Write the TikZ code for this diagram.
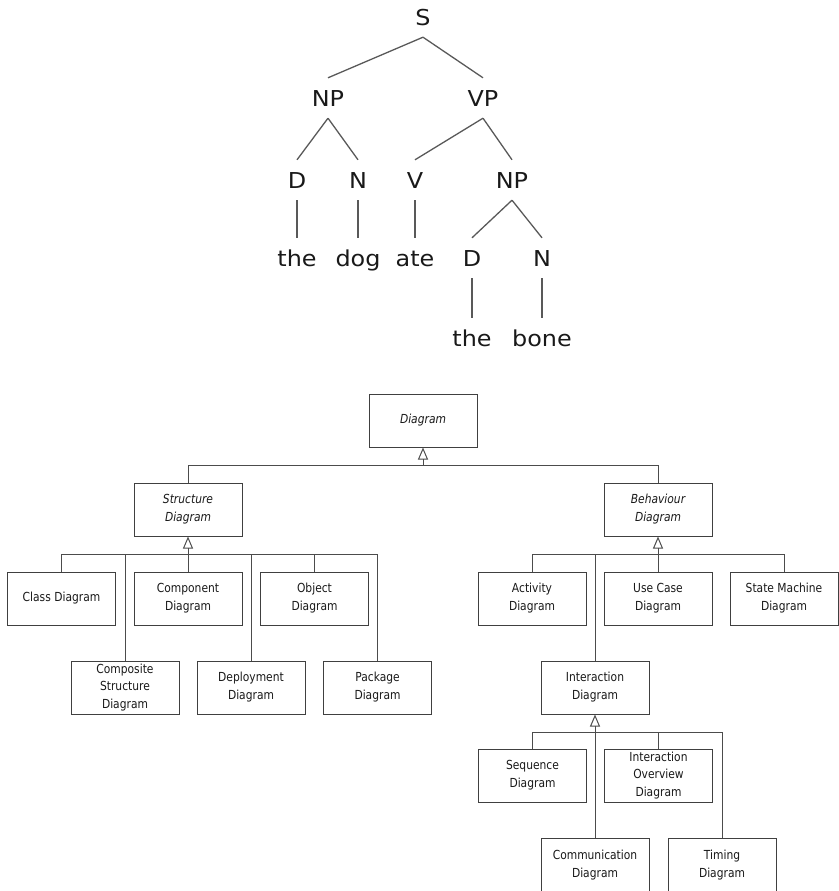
\documentclass[tikz,border=0pt]{standalone}
\usepackage{fontspec}
\usetikzlibrary{arrows.meta}
\newfontfamily\treefont[FakeStretch=1.09]{DejaVu Sans}
\newfontfamily\boxfont[FakeStretch=0.86]{DejaVu Sans}
\begin{document}
\begin{tikzpicture}[x=1bp,y=-1bp,
  tn/.style={font=\treefont\fontsize{22}{26}\selectfont, text=black!90, text height=16bp, text depth=0pt, inner sep=0pt, minimum height=40bp},
  tl/.style={draw=black!65, line width=1.3bp},
  box/.style={draw=black!75, line width=1bp, minimum width=108bp, minimum height=53bp, inner sep=0pt, align=center, text=black!90, font=\boxfont\fontsize{12.5}{18}\selectfont},
  conn/.style={draw=black!70, line width=1bp},
  gen/.style={conn, -{Triangle[open, length=12bp, width=10bp, line width=1bp]}}
]
\useasboundingbox (0,0) rectangle (839,891);
\clip (0,0) rectangle (839,891);

% ---- syntax tree ----
\node[tn] (S) at (423,17) {S};
\node[tn] (np1) at (328,98) {NP};
\node[tn] (vp) at (483,98) {VP};
\node[tn] (d1) at (297,180) {D};
\node[tn] (n1) at (358,180) {N};
\node[tn] (v) at (415,180) {V};
\node[tn] (np2) at (512,180) {NP};
\node[tn] (the1) at (297,258) {the};
\node[tn] (dog) at (358,258) {dog};
\node[tn] (ate) at (415,258) {ate};
\node[tn] (d2) at (472,258) {D};
\node[tn] (n2) at (542,258) {N};
\node[tn] (the2) at (472,338) {the};
\node[tn] (bone) at (542,338) {bone};

\draw[tl] (S.south) -- (np1.north);
\draw[tl] (S.south) -- (vp.north);
\draw[tl] (np1.south) -- (d1.north);
\draw[tl] (np1.south) -- (n1.north);
\draw[tl] (vp.south) -- (v.north);
\draw[tl] (vp.south) -- (np2.north);
\draw[tl] (d1.south) -- (the1.north);
\draw[tl] (n1.south) -- (dog.north);
\draw[tl] (v.south) -- (ate.north);
\draw[tl] (np2.south) -- (d2.north);
\draw[tl] (np2.south) -- (n2.north);
\draw[tl] (d2.south) -- (the2.north);
\draw[tl] (n2.south) -- (bone.north);

% ---- UML diagram hierarchy ----
\node[box] (diag) at (423,420.5) {\itshape Diagram};
\node[box] (sd) at (188,509.5) {\itshape Structure\\\itshape Diagram};
\node[box] (bd) at (658,509.5) {\itshape Behaviour\\\itshape Diagram};

\node[box] (cls) at (61.5,598.5) {Class Diagram};
\node[box] (comp) at (188,598.5) {Component\\Diagram};
\node[box] (obj) at (314.5,598.5) {Object\\Diagram};
\node[box] (csd) at (125,687.5) {Composite\\Structure\\Diagram};
\node[box] (dep) at (251,687.5) {Deployment\\Diagram};
\node[box] (pkg) at (377.5,687.5) {Package\\Diagram};

\node[box] (act) at (532,598.5) {Activity\\Diagram};
\node[box] (uc) at (658,598.5) {Use Case\\Diagram};
\node[box] (sm) at (784,598.5) {State Machine\\Diagram};
\node[box] (inter) at (595,687.5) {Interaction\\Diagram};

\node[box] (seq) at (532.5,775.5) {Sequence\\Diagram};
\node[box] (iov) at (658.5,775.5) {Interaction\\Overview\\Diagram};
\node[box] (com) at (595,865) {Communication\\Diagram};
\node[box] (tim) at (722,865) {Timing\\Diagram};

\coordinate (dbus) at (423,465);
\coordinate (sbus) at (188,554);
\coordinate (bbus) at (658,554);
\coordinate (ibus) at (595,732);

\draw[conn] (sd.north) |- (dbus);
\draw[conn] (bd.north) |- (dbus);
\draw[gen] (dbus) -- (diag.south);

\foreach \c in {cls,comp,obj,csd,dep,pkg} \draw[conn] (\c.north) |- (sbus);
\draw[gen] (sbus) -- (sd.south);

\foreach \c in {act,uc,sm,inter} \draw[conn] (\c.north) |- (bbus);
\draw[gen] (bbus) -- (bd.south);

\foreach \c in {seq,iov,com,tim} \draw[conn] (\c.north) |- (ibus);
\draw[gen] (ibus) -- (inter.south);
\end{tikzpicture}
\end{document}
